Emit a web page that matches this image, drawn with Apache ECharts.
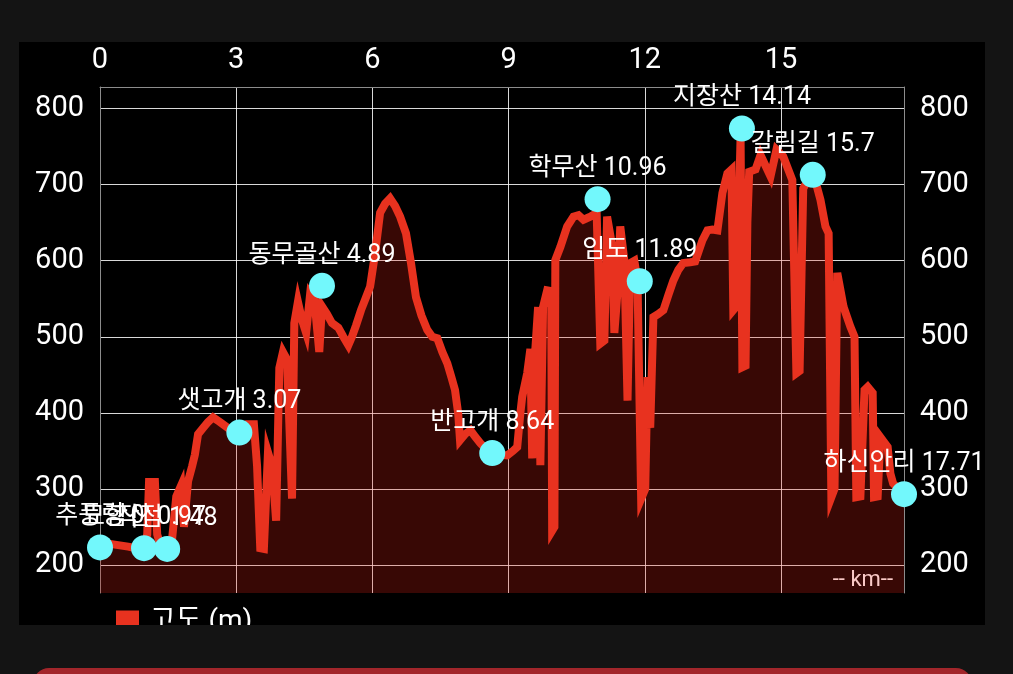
<!DOCTYPE html>
<html>
<head>
<meta charset="utf-8">
<script src="https://cdn.jsdelivr.net/npm/echarts@6/dist/echarts.min.js"></script>
<style>
  html, body { margin: 0; padding: 0; background: #141414; width: 1013px; height: 674px; overflow: hidden; }
  #chart { position: absolute; left: 19px; top: 42px; width: 966px; height: 583px; background: #000; }
  #bar { position: absolute; left: 33px; top: 668px; width: 939px; height: 40px; border-radius: 16px; background: #a3262b; }
</style>
</head>
<body>
<div id="chart"></div>
<div id="bar"></div>
<script>
// Distance along the route (km)
const distKm = [
  0, 0.18, 0.40, 0.62, 0.79, 0.97, 1.04, 1.08, 1.21, 1.26, 1.34, 1.48, 1.59, 1.68, 1.79, 1.85, 1.94,
  2.03, 2.09, 2.16, 2.27, 2.38, 2.49, 2.64, 2.82, 2.95, 3.07, 3.24, 3.39, 3.46, 3.53, 3.61, 3.70,
  3.79, 3.88, 3.95, 4.03, 4.12, 4.23, 4.28, 4.36, 4.45, 4.54, 4.63, 4.72, 4.83, 4.89, 5.00, 5.11,
  5.25, 5.36, 5.47, 5.55, 5.64, 5.75, 5.86, 5.95, 6.06, 6.17, 6.28, 6.39, 6.50, 6.61, 6.74, 6.85,
  6.96, 7.08, 7.21, 7.32, 7.43, 7.54, 7.65, 7.74, 7.82, 7.89, 7.93, 8.04, 8.16, 8.27, 8.38, 8.51,
  8.64, 8.79, 8.97, 9.10, 9.19, 9.26, 9.30, 9.41, 9.48, 9.52, 9.59, 9.65, 9.70, 9.76, 9.85, 9.94,
  9.96, 10.01, 10.03, 10.14, 10.29, 10.43, 10.54, 10.65, 10.80, 10.94, 11.02, 11.11, 11.17, 11.28,
  11.33, 11.40, 11.46, 11.55, 11.62, 11.68, 11.77, 11.84, 11.92, 12.01, 12.06, 12.12, 12.19, 12.30,
  12.41, 12.52, 12.63, 12.74, 12.85, 13.00, 13.11, 13.27, 13.38, 13.49, 13.60, 13.71, 13.82, 13.91,
  13.95, 14.02, 14.11, 14.15, 14.22, 14.26, 14.30, 14.44, 14.55, 14.66, 14.77, 14.90, 15.05, 15.16,
  15.25, 15.34, 15.41, 15.49, 15.61, 15.69, 15.78, 15.87, 15.98, 16.05, 16.11, 16.18, 16.24, 16.38,
  16.53, 16.62, 16.66, 16.75, 16.84, 16.91, 17.02, 17.05, 17.13, 17.19, 17.35, 17.41, 17.47, 17.59,
  17.71
];
// Elevation (m)
const elevM = [
  223, 228, 226, 224, 222, 222, 240, 309, 309, 240, 224, 221, 235, 290, 305, 250, 310,
  330, 345, 372, 380, 388, 394, 388, 380, 374, 374, 385, 385, 330, 222, 221, 348,
  330, 258, 459, 480, 470, 287, 518, 546, 522, 505, 557, 550, 480, 540, 530, 518,
  512, 500, 489, 500, 515, 535, 552, 566, 610, 663, 675, 682, 672, 658, 636, 597,
  552, 528, 509, 500, 498, 480, 465, 447, 430, 399, 364, 372, 377, 368, 360, 352,
  347, 345, 344, 350, 355, 400, 421, 452, 484, 340, 484, 539, 331, 539, 561, 560,
  245, 250, 601, 618, 645, 658, 660, 654, 658, 663, 491, 495, 658, 620,
  505, 560, 645, 600, 416, 597, 600, 574, 287, 300, 447, 380, 526, 530,
  535, 555, 574, 588, 597, 598, 599, 627, 640, 641, 640, 689, 715, 720,
  535, 540, 763, 460, 462, 650, 717, 720, 739, 725, 711, 746, 737, 720,
  706, 452, 455, 695, 708, 713, 700, 680, 645, 636, 289, 300, 584, 539,
  513, 500, 289, 290, 430, 434, 426, 289, 290, 368, 355, 320, 307, 300,
  292
];
// Waypoints
const wpNames = ['추풍령', '묘함산', '작점', '샛고개', '동무골산', '반고개', '학무산', '임도', '지장산', '갈림길', '하신안리'];
const wpKm    = [0, 0.97, 1.48, 3.07, 4.89, 8.64, 10.96, 11.89, 14.14, 15.7, 17.71];
const wpElev  = [223, 222, 221, 374, 567, 347, 681, 573, 774, 713, 293];
// Axis ticks
const yTicks = [200, 300, 400, 500, 600, 700, 800];
const xTickStep = 3;
const seriesName = '고도 (m)';

const FONT = 'Roboto, "Noto Sans CJK KR", sans-serif';
const chart = echarts.init(document.getElementById('chart'), null, { renderer: 'canvas' });

const lineData = distKm.map((d, i) => [d, elevM[i]]);
const wpData = wpNames.map((n, i) => ({ name: n, value: [wpKm[i], wpElev[i]] }));

const yAxisCommon = {
  type: 'value',
  min: 163,
  max: 828.5,
  axisLine: { show: true, lineStyle: { color: '#8c8c8c', width: 1 } },
  axisTick: { show: false, customValues: yTicks },
  axisLabel: { customValues: yTicks, color: '#ffffff', fontSize: 29, fontFamily: FONT, margin: 16 }
};

chart.setOption({
  backgroundColor: '#000000',
  animation: false,
  textStyle: { fontFamily: FONT },
  grid: { left: 81, right: 81, top: 45, bottom: 32, containLabel: false },
  legend: {
    data: [seriesName],
    left: 92,
    top: 561,
    icon: 'rect',
    itemWidth: 23,
    itemHeight: 23,
    textStyle: { color: '#ffffff', fontSize: 28, fontFamily: FONT, padding: [0, 0, 0, 6] }
  },
  xAxis: {
    type: 'value',
    position: 'top',
    min: 0,
    max: 17.71,
    interval: xTickStep,
    axisLine: { show: true, onZero: false, lineStyle: { color: '#8c8c8c', width: 1 } },
    axisTick: { show: false },
    axisLabel: { color: '#ffffff', fontSize: 29, fontFamily: FONT, margin: 12, showMaxLabel: false },
    splitLine: { show: true, lineStyle: { color: 'rgba(255,255,255,0.85)', width: 1 } }
  },
  yAxis: [
    Object.assign({}, yAxisCommon, {
      position: 'left',
      splitLine: { show: true, lineStyle: { color: 'rgba(255,255,255,0.85)', width: 1 } }
    }),
    Object.assign({}, yAxisCommon, {
      position: 'right',
      splitLine: { show: false }
    })
  ],
  graphic: [{
    type: 'text',
    right: 92,
    top: 527,
    style: { text: '-- km--', fill: '#ffffff', font: '22px ' + FONT }
  }],
  series: [
    {
      name: seriesName,
      type: 'line',
      data: lineData,
      showSymbol: false,
      symbol: 'none',
      itemStyle: { color: '#e8321f' },
      lineStyle: { color: '#e8321f', width: 8, join: 'miter' },
      areaStyle: { color: 'rgba(235,35,20,0.34)', origin: 'start' },
      z: 2
    },
    {
      name: 'waypoints',
      type: 'scatter',
      data: wpData,
      symbol: 'circle',
      symbolSize: 26,
      itemStyle: { color: '#72f8fc', opacity: 1 },
      label: {
        show: true,
        position: 'top',
        distance: 5,
        color: '#ffffff',
        fontSize: 25,
        fontFamily: FONT,
        formatter: p => p.name + ' ' + p.value[0]
      },
      z: 5
    }
  ]
});
</script>
</body>
</html>
